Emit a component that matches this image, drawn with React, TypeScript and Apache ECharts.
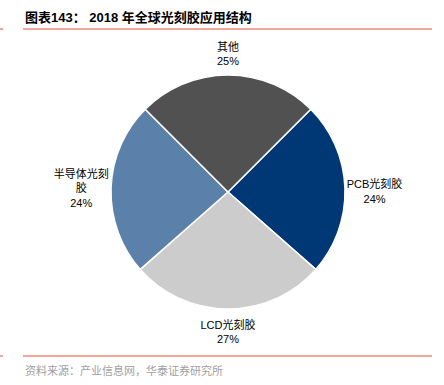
import React, { useEffect, useRef } from "react";
import * as echarts from "echarts";

const categories = ["PCB光刻胶", "LCD光刻胶", "半导体光刻胶", "其他"];
const values = [24, 27, 24, 25];
const colors = ["#003876", "#CCCCCC", "#5B80AA", "#515151"];
// where each label sits relative to its slice
const labelSides = ["right", "bottom", "left", "top"];

const titleText = "图表143： 2018 年全球光刻胶应用结构";
const sourceText = "资料来源：产业信息网，华泰证券研究所";

export default function App() {
  const ref = useRef<HTMLDivElement>(null);
  useEffect(() => {
    document.body.style.margin = "0";
    const chart = echarts.init(ref.current!, null, { renderer: "svg" });
    const labelFont = "'Liberation Sans', 'Noto Sans CJK SC', sans-serif";
    chart.setOption({
      animation: false,
      backgroundColor: "#ffffff",
      graphic: [
        {
          type: "text",
          left: 25,
          top: 11,
          style: {
            text: titleText,
            font: "bold 13px 'Liberation Sans', 'Noto Sans CJK SC', sans-serif",
            fill: "#000000",
          },
        },
        {
          type: "line",
          shape: { x1: 23, y1: 29, x2: 432, y2: 29 },
          style: { stroke: "#E8503A", lineWidth: 1 },
        },
        {
          type: "line",
          shape: { x1: 0, y1: 29, x2: 3, y2: 29 },
          style: { stroke: "#E8503A", lineWidth: 1 },
        },
        {
          type: "line",
          shape: { x1: 23, y1: 356, x2: 432, y2: 356 },
          style: { stroke: "#E8503A", lineWidth: 1 },
        },
        {
          type: "line",
          shape: { x1: 0, y1: 356, x2: 3, y2: 356 },
          style: { stroke: "#E8503A", lineWidth: 1 },
        },
        {
          type: "text",
          left: 25,
          top: 364,
          style: {
            text: sourceText,
            font: "11px 'Noto Sans CJK SC', sans-serif",
            fill: "#A0A0A0",
          },
        },
      ],
      series: [
        {
          type: "pie",
          center: [228, 192],
          radius: [0, 117],
          startAngle: 45,
          clockwise: true,
          itemStyle: { borderColor: "#ffffff", borderWidth: 1.5 },
          label: {
            show: true,
            position: "outside",
            formatter: "{b}\n{c}%",
            color: "#000000",
            fontSize: 11,
            lineHeight: 14.5,
            fontFamily: labelFont,
            align: "center",
          },
          labelLine: { show: false, length: 8, length2: 0 },
          labelLayout: (params: any) => {
            const r = params.rect;
            const lr = params.labelRect;
            const side = labelSides[params.dataIndex];
            const cx = r.x + r.width / 2;
            const cy = r.y + r.height / 2;
            if (side === "top")
              return { x: cx, y: r.y - 20.5, align: "center", verticalAlign: "middle" };
            if (side === "bottom")
              return { x: cx, y: r.y + r.height + 22, align: "center", verticalAlign: "middle" };
            if (side === "right")
              return { x: r.x + r.width + lr.width / 2 + 1, y: cy + 2, align: "center", verticalAlign: "middle" };
            return { x: r.x - lr.width / 2 - 1, y: cy - 1, align: "center", verticalAlign: "middle" };
          },
          emphasis: { disabled: true },
          data: categories.map((name, i) => ({
            name,
            value: values[i],
            itemStyle: { color: colors[i] },
            label: name === "半导体光刻胶" ? { width: 56, overflow: "break" } : undefined,
          })),
        },
      ],
    });
    return () => chart.dispose();
  }, []);
  return <div ref={ref} style={{ width: 444, height: 385 }} />;
}
